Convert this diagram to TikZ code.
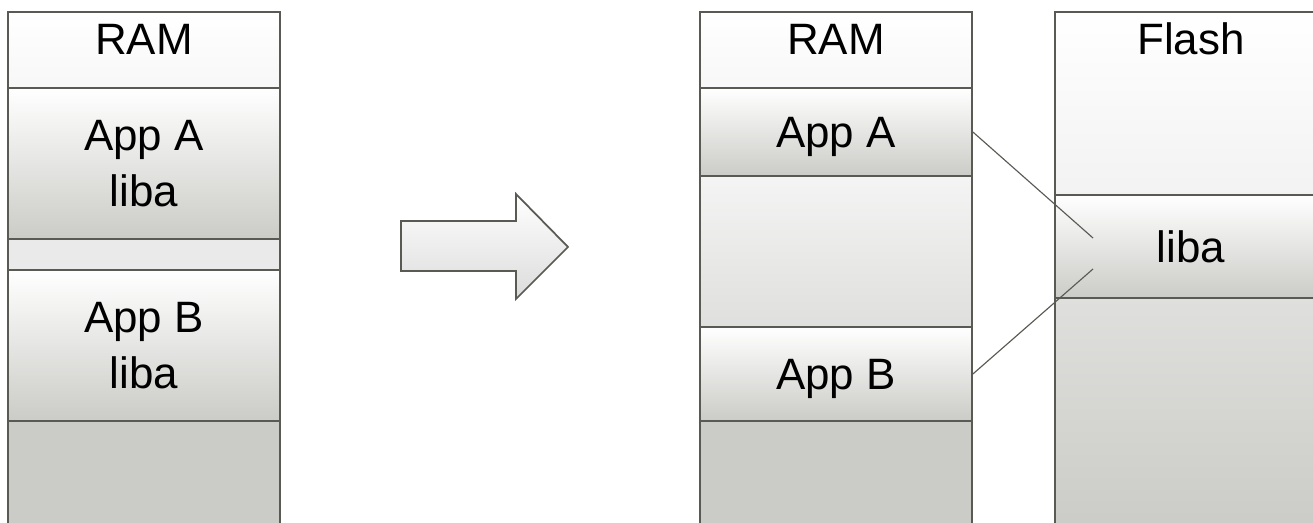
\documentclass[tikz,border=0pt]{standalone}
\usepackage{fontspec}
\setmainfont{Liberation Sans}
\usetikzlibrary{calc,fit}
\definecolor{memline}{HTML}{5A5A55}
\definecolor{memgrey}{HTML}{CBCBC7}
\definecolor{memlight}{HTML}{F4F4F4}
\definecolor{memmid}{HTML}{DFDFDD}
\tikzset{
  cell/.style={draw=memline, line width=1pt, inner sep=0pt},
  headcell/.style={cell, top color=white, bottom color=white!97!black},
  appcell/.style={cell, top color=white, bottom color=memgrey},
  freecell/.style={cell, top color=memlight, bottom color=memmid},
  restcell/.style={cell, top color=memmid, bottom color=memgrey},
  lbl/.style={font=\fontsize{25}{31.8}\selectfont, align=center, inner sep=0pt, text depth=0pt},
  link/.style={draw=memline, line width=0.65pt},
}

\begin{document}
\begin{tikzpicture}[x=0.02cm,y=-0.02cm]
\useasboundingbox (0,0) rectangle (1313,523);

% before: one RAM, the library copied into each app
\node[headcell, fit={(8,12) (280,88)}] (ramL) {};
\node[appcell, fit={(8,88) (280,239)}] (appAL) {};
\node[cell, fill=memlight!96!black, fit={(8,239) (280,270)}] (gapL) {};
\node[appcell, fit={(8,270) (280,421)}] (appBL) {};
\node[cell, fill=memgrey, fit={(8,421) (280,530)}] (restL) {};
\node[lbl, anchor=north] (tRamL) at ($(ramL.north)+(0,13)$) {RAM};
\node[lbl] (tAppAL) at (appAL) {App A\\liba};
\node[lbl] (tAppBL) at (appBL) {App B\\liba};

% the move
\shade[draw=memline, line width=1pt, top color=white, bottom color=white!86!black]
  (401,221) -- (516,221) -- (516,194) -- (568,247) -- (516,299) -- (516,271) -- (401,271) -- cycle;

% after: RAM ...
\node[headcell, fit={(700,12) (972,88)}] (ramR) {};
\node[appcell, fit={(700,88) (972,176)}] (appAR) {};
\node[freecell, fit={(700,176) (972,327)}] (gapR) {};
\node[appcell, fit={(700,327) (972,421)}] (appBR) {};
\node[cell, fill=memgrey, fit={(700,421) (972,530)}] (restR) {};
\node[lbl, anchor=north] (tRamR) at ($(ramR.north)+(0,13)$) {RAM};
\node[lbl] (tAppAR) at (appAR) {App A};
\node[lbl] (tAppBR) at (appBR) {App B};

% ... and Flash holding the one library
\node[headcell, bottom color=white!95!black, fit={(1055,12) (1327,195)}] (flashTop) {};
\node[appcell, fit={(1055,195) (1327,298)}] (libF) {};
\node[restcell, fit={(1055,298) (1327,530)}] (restF) {};
\node[lbl, anchor=north] (tFlash) at ($(flashTop.north)+(0,11)$) {Flash};
\node[lbl] (tLibF) at (libF) {liba};

\coordinate (libInA) at (1093,238);
\coordinate (libInB) at (1093,269);
\draw[link] (appAR.east) -- (libInA);
\draw[link] (appBR.east) -- (libInB);
\end{tikzpicture}
\end{document}
